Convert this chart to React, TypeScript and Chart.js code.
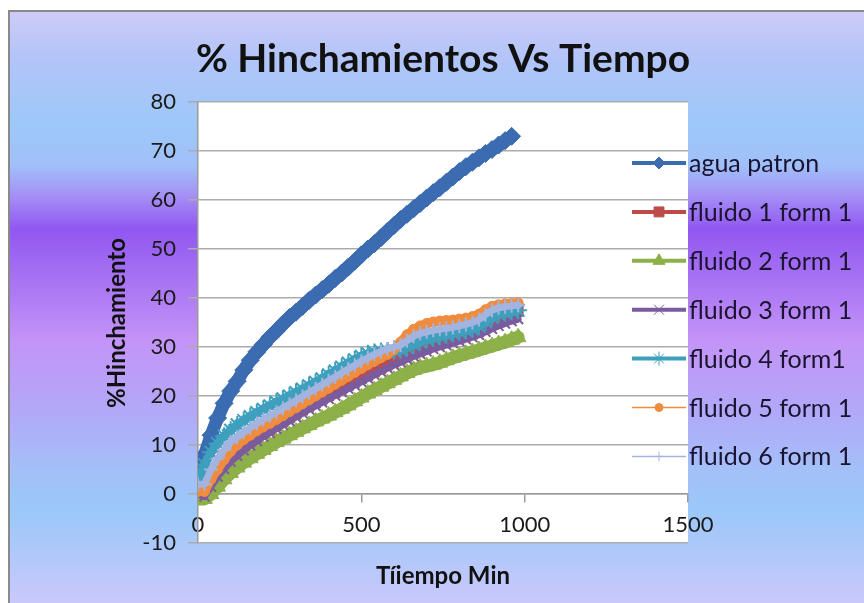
import React, { useEffect, useRef } from "react";
import { Chart, registerables } from "chart.js";
import { drawPoint } from "chart.js/helpers";
Chart.register(...registerables);

const tiempo = [0, 20, 40, 60, 80, 100, 120, 140, 160, 180, 200, 220, 240, 260, 280, 300, 320, 340, 360, 380, 400, 420, 440, 460, 480, 500, 520, 540, 560, 580, 600, 620, 640, 660, 680, 700, 720, 740, 760, 780, 800, 820, 840, 860, 880, 900, 920, 940, 960, 980];

const aguaPatron = [1, 8, 12, 15.5, 18.5, 21, 23, 25.3, 27.3, 29, 30.5, 32, 33.3, 34.7, 36, 37.1, 38.3, 39.5, 40.6, 41.7, 42.8, 44, 45.1, 46.3, 47.5, 48.8, 50, 51.1, 52.3, 53.6, 54.8, 56, 57.1, 58.2, 59.3, 60.4, 61.5, 62.5, 63.6, 64.7, 65.8, 66.8, 67.7, 68.6, 69.5, 70.3, 71.2, 72.1, 73, null];
const fluido1 = [1, 0.5, 2, 4, 5.7, 7.2, 8.4, 9.5, 10.5, 11.4, 12.3, 13.1, 13.9, 14.7, 15.5, 16.3, 17.1, 17.9, 18.6, 19.3, 20, 20.7, 21.4, 22.1, 22.8, 23.5, 24.2, 24.9, 25.6, 26.3, 26.9, 27.5, 28.1, 28.7, 29.2, 29.7, 30.2, 30.6, 31, 31.4, 31.8, 32.2, 32.6, 33.1, 33.8, 34.6, 35.4, 36, 36.7, 37.3];
const fluido2 = [-1, -1, 0, 1.5, 3, 4.3, 5.4, 6.4, 7.3, 8.2, 9, 9.8, 10.6, 11.3, 12, 12.7, 13.4, 14.1, 14.8, 15.4, 16, 16.7, 17.4, 18.1, 18.9, 19.7, 20.5, 21.2, 21.9, 22.6, 23.3, 24, 24.7, 25.3, 25.8, 26.1, 26.4, 26.8, 27.3, 27.8, 28.2, 28.6, 29, 29.4, 29.8, 30.2, 30.6, 31, 31.5, 32];
const fluido3 = [0, -0.5, 1.5, 3.5, 5.1, 6.6, 7.8, 8.9, 9.9, 10.8, 11.7, 12.5, 13.3, 14.1, 14.9, 15.7, 16.5, 17.3, 18, 18.7, 19.4, 20.1, 20.8, 21.5, 22.2, 22.9, 23.6, 24.3, 25, 25.7, 26.3, 26.9, 27.5, 28.1, 28.6, 29.1, 29.6, 30, 30.4, 30.8, 31.2, 31.6, 32, 32.5, 33.1, 33.7, 34.3, 34.8, 35.3, 35.7];
const fluido4 = [2.5, 6, 8.5, 10.3, 11.8, 13, 14.1, 15, 15.8, 16.6, 17.3, 18, 18.7, 19.4, 20, 20.7, 21.4, 22.1, 22.8, 23.5, 24.3, 25.1, 25.9, 26.7, 27.4, 28.1, 28.6, 28.9, 29.1, 29.2, 29.3, 29.4, 29.9, 30.5, 31.1, 31.6, 31.9, 32.2, 32.5, 32.8, 33.1, 33.4, 33.7, 34.3, 35.2, 36.1, 36.7, 37, 37.3, 37.5];
const fluido5 = [0.5, 0.5, 3, 5, 7, 8.7, 10, 11.1, 12, 12.9, 13.7, 14.4, 15.2, 16, 16.8, 17.6, 18.4, 19.2, 20, 20.8, 21.6, 22.4, 23.2, 24, 24.8, 25.6, 26.4, 27.1, 27.8, 28.5, 29.5, 31, 32.5, 33.6, 34.3, 34.8, 35.1, 35.3, 35.4, 35.5, 35.7, 35.9, 36.2, 36.7, 37.6, 38.3, 38.6, 38.8, 38.9, 39];
const fluido6 = [2, 2, 5, 7.2, 9, 10.6, 11.6, 12.6, 13.5, 14.4, 15.2, 15.9, 16.7, 17.5, 18.3, 19.1, 19.9, 20.7, 21.5, 22.3, 23.1, 23.9, 24.7, 25.5, 26.3, 27.1, 27.8, 28.5, 29.1, 29.6, 30, 30.4, 31.3, 32.2, 32.8, 33.1, 33.4, 33.6, 33.8, 34, 34.3, 34.6, 35, 35.6, 36.6, 37.5, 38, 38.2, 38.4, 38.5];

const seriesNames = ["agua patron", "fluido 1 form 1", "fluido 2 form 1", "fluido 3 form 1", "fluido 4 form1", "fluido 5 form 1", "fluido 6 form 1"];
const seriesValues = [aguaPatron, fluido1, fluido2, fluido3, fluido4, fluido5, fluido6];

const titleText = "% Hinchamientos Vs Tiempo";
const yTitle = "%Hinchamiento";
const xTitle = "Tíiempo Min";

const FONT = "Lato, 'Open Sans', sans-serif";

// chart line width (cw), marker radius (r), legend line width (lw), legend marker radius (lr)
const styles = [
  { color: "#3b6bb0", point: "rectRot", r: 9, bw: 1, cw: 13, lw: 4, lr: 6 },
  { color: "#be4b48", point: "rect", r: 7, bw: 1, cw: 8, lw: 4, lr: 7 },
  { color: "#8db049", point: "triangle", r: 9, bw: 1, cw: 13, lw: 4, lr: 7 },
  { color: "#7a5c9e", point: "crossRot", r: 7, bw: 2, cw: 7, lw: 4, lr: 7 },
  { color: "#3ea0bd", point: "star", r: 9, bw: 2, cw: 9, lw: 4, lr: 7 },
  { color: "#f08c3e", point: "circle", r: 5, bw: 1, cw: 9, lw: 1.5, lr: 4 },
  { color: "#a3b4e0", point: "cross", r: 7, bw: 2, cw: 7, lw: 1.5, lr: 5 },
];

const overlay = {
  id: "overlay",
  beforeDraw(chart: any) {
    const { ctx, chartArea } = chart;
    ctx.save();
    ctx.fillStyle = "#ffffff";
    ctx.fillRect(chartArea.left, chartArea.top, chartArea.right - chartArea.left, chartArea.bottom - chartArea.top);
    ctx.restore();
  },
  afterDraw(chart: any) {
    const { ctx, chartArea } = chart;
    const cx = (chartArea.left + chartArea.right) / 2;
    ctx.save();
    ctx.fillStyle = "#111111";
    ctx.textAlign = "center";
    ctx.textBaseline = "middle";
    ctx.font = `bold 39px ${FONT}`;
    ctx.fillText(titleText, cx, 59);
    ctx.font = `bold 24px ${FONT}`;
    ctx.fillText(xTitle, cx, 576);
    ctx.save();
    ctx.translate(117, 323);
    ctx.rotate(-Math.PI / 2);
    ctx.fillText(yTitle, 0, 0);
    ctx.restore();

    // legend
    const x0 = 632, x1 = 686, mx = 659, tx = 689;
    ctx.textAlign = "left";
    ctx.font = `25px ${FONT}`;
    seriesNames.forEach((name, i) => {
      const st = styles[i];
      const y = 163 + i * 48.9;
      ctx.strokeStyle = st.color;
      ctx.lineWidth = st.lw;
      ctx.beginPath();
      ctx.moveTo(x0, y);
      ctx.lineTo(x1, y);
      ctx.stroke();
      ctx.fillStyle = st.color;
      ctx.strokeStyle = st.color;
      ctx.lineWidth = 1;
      drawPoint(ctx, { pointStyle: st.point as any, rotation: 0, radius: st.lr, borderWidth: 1 }, mx, y);
      ctx.fillStyle = "#1a1430";
      ctx.fillText(name, tx, y + 1);
    });
    ctx.restore();
  },
};

export default function App() {
  const ref = useRef<HTMLCanvasElement>(null);
  useEffect(() => {
    const canvas = ref.current!;
    const datasets = seriesNames.map((name, i) => {
      const st = styles[i];
      return {
        label: name,
        data: tiempo.map((t, k) => ({ x: t, y: seriesValues[i][k] })),
        borderColor: st.color,
        backgroundColor: st.color,
        borderWidth: st.cw,
        borderJoinStyle: "round",
        borderCapStyle: "round",
        pointStyle: st.point,
        pointRadius: st.r,
        pointBorderWidth: st.bw,
        pointBorderColor: st.color,
        pointBackgroundColor: st.color,
        tension: 0,
        order: 7 - i,
      };
    });
    const chart = new Chart(canvas, {
      type: "line",
      data: { datasets: datasets as any },
      plugins: [overlay],
      options: {
        responsive: false,
        animation: false,
        devicePixelRatio: 1,
        layout: { padding: { left: 0, right: 176, top: 102, bottom: 60 } },
        plugins: { legend: { display: false }, tooltip: { enabled: false }, title: { display: false } },
        scales: {
          x: {
            type: "linear",
            position: { y: 0 } as any,
            min: 0,
            max: 1500,
            ticks: {
              stepSize: 500, font: { family: FONT, size: 22 }, color: "#1a1a1a", padding: 10, maxRotation: 0,
              callback: (v: any) => String(v),
            },
            grid: { drawOnChartArea: false, drawTicks: true, tickLength: 8, color: "#9a9a9a", lineWidth: 1.5 },
            border: { display: true, color: "#9a9a9a", width: 1.5 },
          },
          y: {
            type: "linear",
            min: -10,
            max: 80,
            ticks: { stepSize: 10, font: { family: FONT, size: 22 }, color: "#1a1a1a", padding: 12, callback: (v: any) => String(v) },
            grid: { color: "#ababab", lineWidth: 1.5, tickLength: 10 },
            border: { display: true, color: "#9a9a9a", width: 1.5 },
            afterFit: (s: any) => { s.width = 198; },
          },
        },
      },
    });
    return () => chart.destroy();
  }, []);
  return (
    <div style={{ position: "fixed", left: 0, top: 0, width: 864, height: 603, background: "#ffffff", overflow: "hidden" }}>
      <div
        style={{
          position: "absolute", left: 8, top: 10, width: 856, height: 593, boxSizing: "border-box",
          borderLeft: "2px solid #8a8a8a", borderTop: "2px solid #8a8a8a",
          background: "linear-gradient(to bottom, #cdcbf7 0%, #b2c4f8 8%, #9ec8f9 18.5%, #a0c0f9 26%, #a590f6 31%, #9257f1 36.8%, #a36ef2 43.8%, #c394f7 55.6%, #b2a8f8 67.5%, #a3c0f9 77.6%, #9ac8f9 84.3%, #cac8fb 100%)",
        }}
      />
      <canvas ref={ref} width={864} height={603} style={{ position: "absolute", left: 0, top: 0 }} />
    </div>
  );
}
